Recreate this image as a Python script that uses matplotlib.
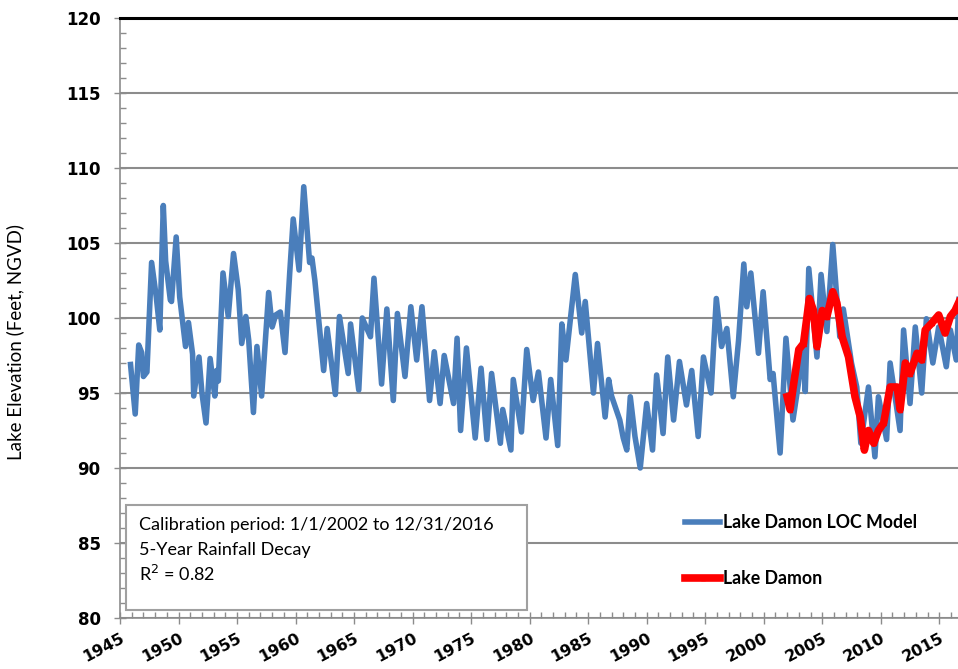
import matplotlib.pyplot as plt
from matplotlib.patches import Rectangle
from matplotlib.ticker import MultipleLocator

# Lake Damon LOC model (blue)
model_year = [1945.9, 1946.3, 1946.6, 1946.85, 1947.0, 1947.3, 1947.7, 1948.1, 1948.4, 1948.7,
              1948.9, 1949.3, 1949.4, 1949.8, 1950.1, 1950.6, 1950.85, 1951.2, 1951.3, 1951.75,
              1952.0, 1952.35, 1952.7, 1953.1, 1953.25, 1953.4, 1953.8, 1954.25, 1954.7, 1955.1,
              1955.4, 1955.75, 1956.0, 1956.4, 1956.7, 1957.1, 1957.7, 1958.0, 1958.3, 1958.7,
              1959.1, 1959.5, 1959.8, 1960.3, 1960.7, 1961.2, 1961.4, 1961.65, 1962.4, 1962.7,
              1963.4, 1963.75, 1964.5, 1964.7, 1965.4, 1965.7, 1966.4, 1966.7, 1967.35, 1967.8,
              1968.35, 1968.7, 1969.35, 1969.85, 1970.35, 1970.8, 1971.45, 1971.85, 1972.35, 1972.7,
              1973.5, 1973.8, 1974.1, 1974.6, 1975.35, 1975.85, 1976.35, 1976.75, 1977.5, 1977.7,
              1978.4, 1978.6, 1979.3, 1979.75, 1980.3, 1980.75, 1981.4, 1981.8, 1982.4, 1982.75,
              1983.1, 1983.9, 1984.45, 1984.75, 1985.45, 1985.8, 1986.45, 1986.75, 1987.0, 1987.7,
              1988.0, 1988.3, 1988.6, 1989.0, 1989.45, 1990.0, 1990.5, 1990.85, 1991.4, 1991.8,
              1992.3, 1992.8, 1993.4, 1993.85, 1994.4, 1994.85, 1995.5, 1995.95, 1996.4, 1996.85,
              1997.4, 1997.85, 1998.3, 1998.55, 1998.9, 1999.55, 1999.95, 2000.55, 2000.8, 2001.4,
              2001.9, 2002.5, 2003.4, 2003.55, 2003.85, 2004.55, 2004.9, 2005.4, 2005.9, 2006.5,
              2006.8, 2007.5, 2007.95, 2008.3, 2008.95, 2009.5, 2009.8, 2010.5, 2010.8, 2011.65,
              2011.95, 2012.5, 2012.95, 2013.5, 2013.9, 2014.45, 2014.95, 2015.6, 2015.95, 2016.45,
              2016.7]
model_elev = [96.9, 93.6, 98.2, 97.7, 96.1, 96.4, 103.7, 101.4, 99.2, 107.5,
              103.8, 101.2, 101.1, 105.4, 101.4, 98.1, 99.7, 97.6, 94.8, 97.4,
              95.0, 93.0, 97.3, 94.8, 96.5, 95.8, 103.0, 100.1, 104.3, 101.9,
              98.3, 100.1, 98.5, 93.7, 98.1, 94.8, 101.7, 99.4, 100.2, 100.4,
              97.7, 103.0, 106.6, 103.2, 108.75, 103.7, 104.0, 102.5, 96.5, 99.3,
              94.9, 100.1, 96.3, 99.6, 95.2, 100.0, 98.75, 102.65, 95.6, 100.6,
              94.5, 100.3, 96.1, 100.75, 97.2, 100.75, 94.5, 97.75, 94.3, 97.5,
              94.3, 98.65, 92.5, 98.0, 92.0, 96.65, 91.9, 96.3, 91.65, 93.9,
              91.2, 95.9, 92.4, 97.9, 94.5, 96.4, 92.0, 95.9, 91.5, 99.6,
              97.2, 102.9, 99.0, 101.1, 95.0, 98.3, 93.4, 95.9, 94.8, 93.2,
              92.0, 91.2, 94.75, 92.1, 90.0, 94.3, 91.2, 96.2, 92.3, 97.4,
              93.2, 97.1, 94.2, 96.5, 92.1, 97.4, 95.0, 101.3, 98.1, 99.3,
              94.75, 98.5, 103.6, 100.75, 103.0, 97.65, 101.75, 95.9, 96.3, 91.0,
              98.65, 93.2, 97.9, 95.1, 103.3, 97.4, 102.9, 99.1, 104.9, 98.75,
              100.6, 97.0, 95.4, 91.65, 95.4, 90.75, 94.75, 91.9, 97.0, 92.5,
              99.2, 94.3, 99.4, 95.0, 99.95, 97.0, 99.4, 96.75, 99.2, 97.2,
              101.5]

# Lake Damon observed (red)
obs_year = [2002.0, 2002.25, 2002.5, 2003.0, 2003.4, 2003.9, 2004.25, 2004.55, 2005.0, 2005.4,
            2005.9, 2006.25, 2006.7, 2007.25, 2007.8, 2008.25, 2008.6, 2008.95, 2009.4, 2009.8,
            2010.25, 2010.8, 2011.4, 2011.65, 2012.1, 2012.5, 2013.1, 2013.5, 2013.8, 2014.35,
            2014.95, 2015.5, 2015.95, 2016.35, 2016.7]
obs_elev = [94.75, 93.9, 95.3, 97.9, 98.3, 101.3, 100.5, 98.1, 100.5, 100.1,
            101.75, 101.0, 98.75, 97.4, 94.75, 93.4, 91.2, 92.5, 91.65, 92.5,
            93.0, 95.4, 95.4, 93.9, 97.0, 96.3, 97.65, 97.2, 99.2, 99.65,
            100.2, 99.0, 100.1, 100.5, 101.1]

info_lines = ["Calibration period: 1/1/2002 to 12/31/2016",
              "5-Year Rainfall Decay",
              "R$^2$ = 0.82"]

fig = plt.figure(figsize=(9.58, 6.69), dpi=100)
ax = fig.add_axes([120 / 958, 1 - 618 / 669, 1 - 120 / 958, 600 / 669])

ax.plot(model_year, model_elev, color="#4A7EBB", lw=4, solid_joinstyle="round",
        label="Lake Damon LOC Model", zorder=3)
ax.plot(obs_year, obs_elev, color="#FF0000", lw=5.5, marker="^", markersize=3,
        solid_joinstyle="round", label="Lake Damon", zorder=4)

ax.set_xlim(1945, 2016.6)
ax.set_ylim(80, 120)
ax.xaxis.set_major_locator(MultipleLocator(5))
ax.xaxis.set_minor_locator(MultipleLocator(1))
ax.yaxis.set_major_locator(MultipleLocator(5))
ax.yaxis.set_minor_locator(MultipleLocator(1))

for s in ["top", "right"]:
    ax.spines[s].set_visible(False)
for s in ["left", "bottom"]:
    ax.spines[s].set_color("#8c8c8c")
    ax.spines[s].set_linewidth(1.2)

ax.grid(axis="y", which="major", color="#8c8c8c", lw=1.5)
ax.axhline(120, color="black", lw=2.2, zorder=5, clip_on=False)

ax.tick_params(axis="both", which="major", direction="inout", length=8, color="#8c8c8c",
               width=1)
ax.tick_params(axis="both", which="minor", direction="in", length=4, color="#8c8c8c",
               width=1)
ax.tick_params(axis="y", labelsize=12, pad=10)
ax.tick_params(axis="x", labelsize=11.5, pad=5)
for lab in ax.get_yticklabels():
    lab.set_fontweight("bold")
years = list(range(1945, 2020, 5))
ax.set_xticks(years)
ax.set_xticklabels([str(y) for y in years], rotation=28, ha="right",
                   rotation_mode="anchor", fontweight="bold")

ax.set_ylabel("Lake Elevation (Feet, NGVD)", family="Lato", fontsize=13.5)
ax.yaxis.set_label_coords(-0.114, 0.46)

# info box
ax.add_patch(Rectangle((0.0072, 0.0133), 0.4785, 0.175, transform=ax.transAxes,
                       facecolor="white", edgecolor="#a0a0a0", lw=1.5, zorder=6))
for i, line in enumerate(info_lines):
    ax.text(0.0225, 0.155 - i * 0.041, line, transform=ax.transAxes, family="Lato",
            fontsize=13, va="center", ha="left", zorder=7)

leg = ax.legend(loc="upper left", bbox_to_anchor=(0.655, 0.2), frameon=False,
                handlelength=2.0, handletextpad=0.15, labelspacing=2.2,
                prop={"family": "Lato", "weight": "bold", "size": 12.8})
leg.set_zorder(7)

fig.savefig("out.png", dpi=100)
